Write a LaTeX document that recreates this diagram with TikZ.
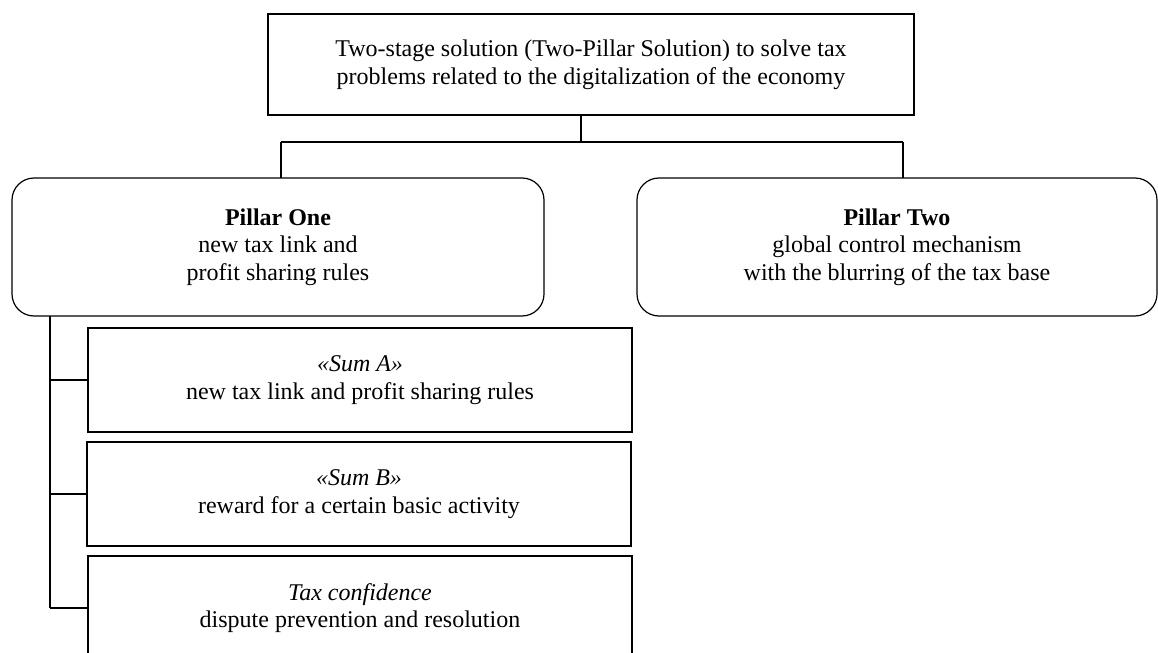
\documentclass[tikz,border=0pt]{standalone}
\usepackage{fontspec}
\setmainfont{Liberation Serif}
\usepackage{tikz}
\usetikzlibrary{positioning}

\begin{document}
\begin{tikzpicture}[x=0.5pt, y=-0.5pt,
    base/.style={draw, line width=0.6pt, inner sep=0pt, outer sep=0pt, align=center,
                 font=\fontsize{12}{13.8}\selectfont},
    raiz/.style={base, rectangle, minimum width=323pt, minimum height=50.5pt},
    pilar/.style={base, rectangle, rounded corners=11pt, minimum height=69pt},
    parte/.style={base, rectangle, minimum width=272pt, minimum height=52pt},
    enlace/.style={line width=0.6pt}
  ]
  \useasboundingbox (0,0) rectangle (1158,653);

  \node[raiz] (solucion) at (591,64.5) {Two-stage solution (Two-Pillar Solution) to solve tax\\
    problems related to the digitalization of the economy};

  \node[pilar, minimum width=266pt] (pilaruno) at (278,247) {\textbf{Pillar One}\\ new tax link and\\ profit sharing rules};
  \node[pilar, minimum width=260pt] (pilardos) at (897,247) {\textbf{Pillar Two}\\ global control mechanism\\ with the blurring of the tax base};

  \node[parte] (suma) at (360,380) {\textit{«Sum A»}\\ new tax link and profit sharing rules};
  \node[parte] (sumb) at (359,494) {\textit{«Sum B»}\\ reward for a certain basic activity};
  \node[parte] (conf) at (360,608) {\textit{Tax confidence}\\ dispute prevention and resolution};

  % tree lines
  \coordinate (bifurca) at (581,142);
  \coordinate (busizq) at (281,142);
  \coordinate (busder) at (903,142);
  \coordinate (espina) at (50,316);

  \draw[enlace] (solucion.south -| bifurca) -- (bifurca);
  \draw[enlace] (busizq) -- (busder);
  \draw[enlace] (busizq) -- (busizq |- pilaruno.north);
  \draw[enlace] (busder) -- (busder |- pilardos.north);

  \draw[enlace] (pilaruno.south -| espina) -- (espina |- conf.west);
  \foreach \n in {suma,sumb,conf}
    \draw[enlace] (espina |- \n.west) -- (\n.west);
\end{tikzpicture}
\end{document}
